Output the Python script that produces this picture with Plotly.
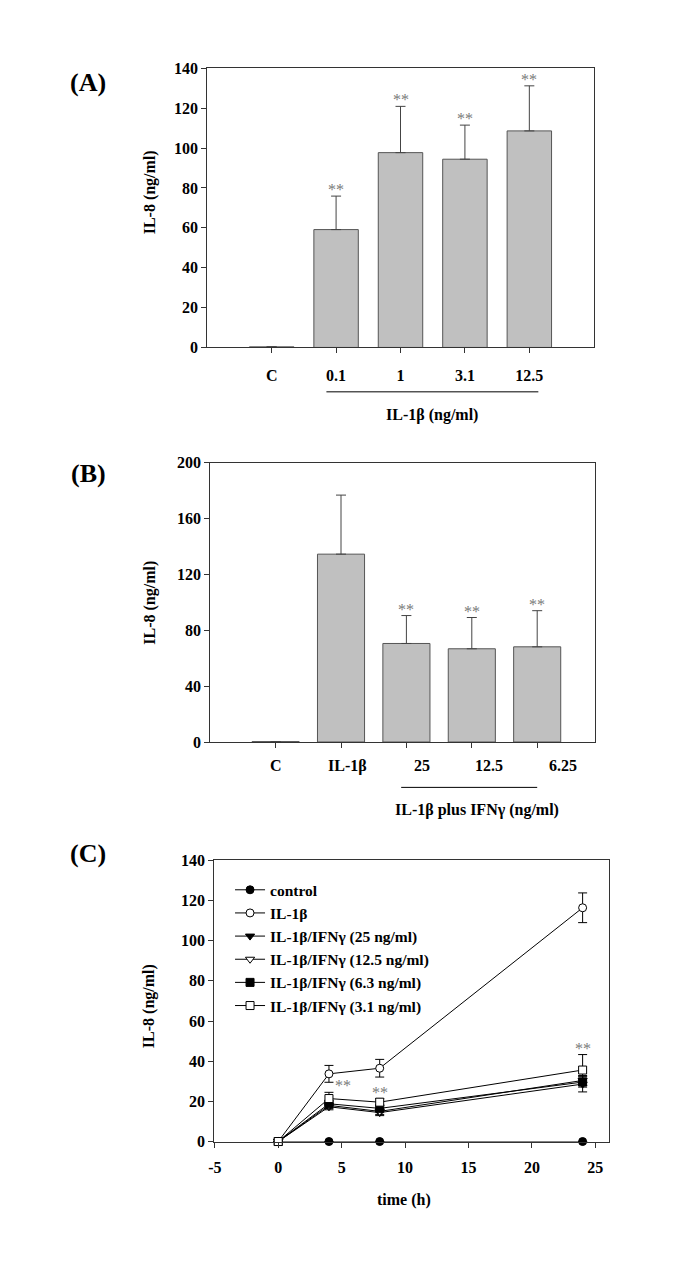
import plotly.graph_objects as go

# page is 685x1269 with the default 8px body margin -> figure is 669x1253
W, H = 669, 1253
OFF = 8

# ---------------- data ----------------
# Panel A
cats_A = ["C", "0.1", "1", "3.1", "12.5"]
il8_A = [0.3, 59.1, 97.7, 94.4, 108.6]
err_A = [0.0, 16.8, 23.2, 17.1, 22.6]
sig_A = ["", "**", "**", "**", "**"]
group_A = "IL-1β (ng/ml)"

# Panel B
cats_B = ["C", "IL-1β", "25", "12.5", "6.25"]
il8_B = [0.3, 134.6, 70.6, 66.8, 68.2]
err_B = [0.0, 42.3, 20.0, 22.4, 25.9]
sig_B = ["", "", "**", "**", "**"]
group_B = "IL-1β plus IFNγ (ng/ml)"

# Panel C
time_h = [0, 4, 8, 24]
names_C = ["control", "IL-1β", "IL-1β/IFNγ (25 ng/ml)", "IL-1β/IFNγ (12.5 ng/ml)",
           "IL-1β/IFNγ (6.3 ng/ml)", "IL-1β/IFNγ (3.1 ng/ml)"]
control = [0.0, 0.0, 0.0, 0.0]
il1b = [0.0, 33.7, 36.5, 116.4]
ifn25 = [0.0, 17.3, 14.4, 28.6]
ifn12_5 = [0.0, 18.0, 15.0, 30.4]
ifn6_3 = [0.0, 18.8, 16.5, 29.6]
ifn3_1 = [0.0, 21.4, 19.6, 35.6]
err_control = [0.0, 0.0, 0.0, 0.0]
err_il1b = [0.0, 4.2, 4.4, 7.4]
err_ifn25 = [0.0, 1.5, 1.5, 3.9]
err_ifn12_5 = [0.0, 1.5, 1.5, 2.5]
err_ifn6_3 = [0.0, 1.5, 1.5, 2.5]
err_ifn3_1 = [0.0, 3.1, 1.8, 7.7]
sig_C = ["", "**", "**", "**"]  # on the 3.1 ng/ml series
series_C = [control, il1b, ifn25, ifn12_5, ifn6_3, ifn3_1]
errs_C = [err_control, err_il1b, err_ifn25, err_ifn12_5, err_ifn6_3, err_ifn3_1]
ticks_C = [-5, 0, 5, 10, 15, 20, 25]
ticklabels_C = ["-5", "0", "5", "10", "15", "20", "25"]

# ---------------- style ----------------
FONT = "Liberation Serif, Times New Roman, serif"
AX = "#333333"
BAR_FILL = "#c0c0c0"
BAR_LINE = "#555555"
STAR = "#7a7a7a"
symbols_C = ["circle", "circle", "triangle-down", "triangle-down", "square", "square"]
fills_C = ["black", "white", "black", "white", "black", "white"]
labelpos_B = [0.0, 1.1, 2.24, 3.26, 4.39]   # label placement for panel B categories
star_xshift_C = [0, 14, 0, 0]
FS = 16


def px(x):
    return (x - OFF) / W


def py(y):
    return 1 - (y - OFF) / H


fig = go.Figure()

# Panel A bars
fig.add_trace(go.Bar(
    x=list(range(len(cats_A))), y=il8_A, width=0.69,
    marker=dict(color=BAR_FILL, line=dict(color=BAR_LINE, width=1)),
    error_y=dict(type="data", symmetric=False, array=err_A, arrayminus=[0] * len(err_A),
                 color="#444444", thickness=1, width=5, visible=True),
    xaxis="x", yaxis="y", showlegend=False))

# Panel B bars
fig.add_trace(go.Bar(
    x=list(range(len(cats_B))), y=il8_B, width=0.72,
    marker=dict(color=BAR_FILL, line=dict(color=BAR_LINE, width=1)),
    error_y=dict(type="data", symmetric=False, array=err_B, arrayminus=[0] * len(err_B),
                 color="#444444", thickness=1, width=5, visible=True),
    xaxis="x2", yaxis="y2", showlegend=False))

# Panel C lines
for name, ys, es, sym, fc in zip(names_C, series_C, errs_C, symbols_C, fills_C):
    fig.add_trace(go.Scatter(
        x=time_h, y=ys, name=name, mode="lines+markers",
        line=dict(color="black", width=1),
        marker=dict(symbol=sym, size=8, color=fc, line=dict(color="black", width=1)),
        error_y=dict(type="data", array=es, color="black", thickness=1, width=4.5, visible=True),
        xaxis="x3", yaxis="y3", cliponaxis=False))

tickfont = dict(family=FONT, size=FS, color="black", weight="bold")
axis_common = dict(showline=True, linecolor=AX, linewidth=1, mirror=True, ticks="outside",
                   ticklen=5, tickcolor=AX, showgrid=False, zeroline=False, tickfont=tickfont)

fig.update_layout(
    width=W, height=H, paper_bgcolor="white", plot_bgcolor="white",
    margin=dict(l=0, r=0, t=0, b=0),
    font=dict(family=FONT, color="black"),
    xaxis=dict(domain=[px(203), px(593)], range=[-1, 5], anchor="y",
               tickvals=list(range(len(cats_A))), ticktext=cats_A, ticklabelstandoff=8, **axis_common),
    yaxis=dict(domain=[py(344), py(61)], range=[0, 140], dtick=20, anchor="x", **axis_common),
    xaxis2=dict(domain=[px(206), px(594)], range=[-1, 4.88], anchor="y2",
                tickvals=list(range(len(cats_B))), showticklabels=False, **axis_common),
    yaxis2=dict(domain=[py(744), py(461)], range=[0, 200], dtick=40, anchor="x2", **axis_common),
    xaxis3=dict(domain=[px(210), px(608)], range=[-5.05, 26.05], anchor="y3",
                tickvals=ticks_C, ticktext=ticklabels_C, ticklabelstandoff=6, **axis_common),
    yaxis3=dict(domain=[py(1149), py(864)], range=[0, 140], dtick=20, anchor="x3", **axis_common),
    legend=dict(x=px(226), y=py(877), xanchor="left", yanchor="top", bgcolor="rgba(0,0,0,0)",
                font=dict(family=FONT, size=15.5, color="black", weight="bold"),
                tracegroupgap=0, itemwidth=30),
    showlegend=True,
)

ann = []
bold = dict(family=FONT, color="black", weight="bold")

# panel letters
for lab, yc in [("(A)", 75), ("(B)", 472), ("(C)", 857)]:
    ann.append(dict(text=lab, x=px(83), y=py(yc), xref="paper", yref="paper",
                    showarrow=False, font=dict(size=26, **bold), xanchor="center", yanchor="middle"))

# y titles
for yc in [187, 603, 1012]:
    ann.append(dict(text="IL-8 (ng/ml)", x=px(145), y=py(yc), xref="paper", yref="paper",
                    textangle=-90, showarrow=False, font=dict(size=FS, **bold),
                    xanchor="center", yanchor="middle"))

# time label
ann.append(dict(text="time (h)", x=px(402), y=py(1208), xref="paper", yref="paper",
                showarrow=False, font=dict(size=FS, **bold), xanchor="center", yanchor="middle"))

# group labels
ann.append(dict(text=group_A, x=px(430), y=py(412), xref="paper", yref="paper",
                showarrow=False, font=dict(size=FS, **bold), xanchor="center", yanchor="middle"))
ann.append(dict(text=group_B, x=px(475), y=py(813), xref="paper", yref="paper",
                showarrow=False, font=dict(size=FS, **bold), xanchor="center", yanchor="middle"))

# panel B category labels
for lab, xp in zip(cats_B, labelpos_B):
    ann.append(dict(text=lab, x=xp, y=py(768), xref="x2", yref="paper", showarrow=False,
                    font=dict(size=FS, **bold), xanchor="center", yanchor="middle"))

# significance stars
for i, s in enumerate(sig_A):
    if s:
        ann.append(dict(text=s, x=i, y=il8_A[i] + err_A[i], xref="x", yref="y", showarrow=False,
                        font=dict(family=FONT, size=16, color=STAR), xanchor="center",
                        yanchor="bottom", yshift=-4))
for i, s in enumerate(sig_B):
    if s:
        ann.append(dict(text=s, x=i, y=il8_B[i] + err_B[i], xref="x2", yref="y2", showarrow=False,
                        font=dict(family=FONT, size=16, color=STAR), xanchor="center",
                        yanchor="bottom", yshift=-4))
for i, s in enumerate(sig_C):
    if s:
        ann.append(dict(text=s, x=time_h[i], y=ifn3_1[i] + err_ifn3_1[i], xref="x3", yref="y3",
                        showarrow=False, font=dict(family=FONT, size=16, color=STAR),
                        xanchor="center", yanchor="bottom", yshift=-4, xshift=star_xshift_C[i]))

fig.update_layout(annotations=ann)

# group underline shapes
fig.add_shape(type="line", xref="x", yref="paper", x0=0.85, x1=4.14, y0=py(389), y1=py(389),
              line=dict(color="black", width=1))
fig.add_shape(type="line", xref="x2", yref="paper", x0=1.92, x1=4.0, y0=py(790), y1=py(790),
              line=dict(color="black", width=1))

fig.write_html("out.html")
